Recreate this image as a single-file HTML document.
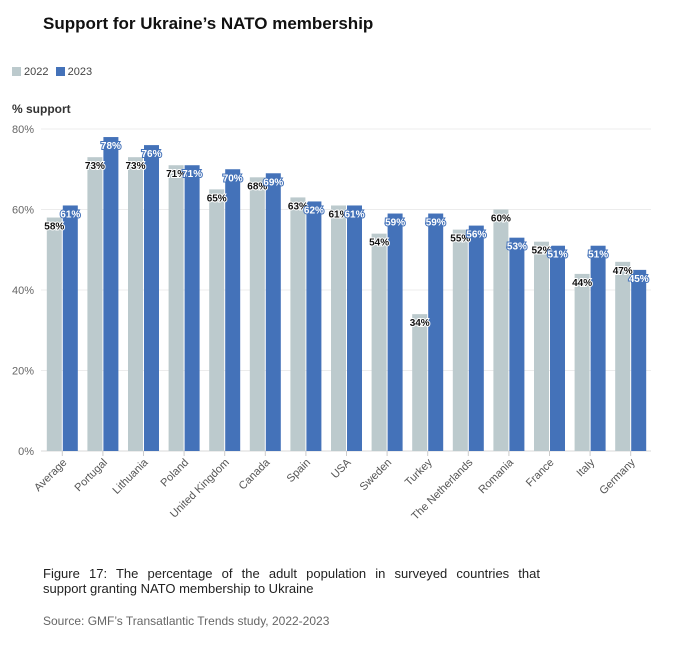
<!DOCTYPE html>
<html><head><meta charset="utf-8">
<style>
body{margin:0;background:#fff;width:679px;height:648px;overflow:hidden;font-family:"Liberation Sans","DejaVu Sans",sans-serif;}
.t{position:absolute;}
</style></head><body>
<div class="t" style="left:43px;top:14px;font-size:17px;font-weight:bold;color:#111;">Support for Ukraine’s NATO membership</div>
<div class="t" style="left:12px;top:66px;font-size:11px;color:#444;">
<span><span style="display:inline-block;width:9px;height:9px;background:#bccacd;vertical-align:-1px"></span> 2022</span>
<span style="margin-left:4px"><span style="display:inline-block;width:9px;height:9px;background:#4472b9;vertical-align:-1px"></span> 2023</span>
</div>
<div class="t" style="left:12px;top:102px;font-size:12px;font-weight:bold;color:#333;">% support</div>
<svg id="chart" width="679" height="560" style="position:absolute;left:0;top:0" xmlns="http://www.w3.org/2000/svg"></svg>
<div class="t" style="left:43px;top:566px;width:497px;font-size:13px;color:#222;line-height:15px;">
<div style="text-align:justify;text-align-last:justify;white-space:nowrap;">Figure 17: The percentage of the adult population in surveyed countries that</div>
<div>support granting NATO membership to Ukraine</div></div>
<div class="t" style="left:43px;top:614px;font-size:12px;color:#666;">Source: GMF’s Transatlantic Trends study, 2022-2023</div>
<script>
const categories=["Average","Portugal","Lithuania","Poland","United Kingdom","Canada","Spain","USA","Sweden","Turkey","The Netherlands","Romania","France","Italy","Germany"];
const values2022=[58,73,73,71,65,68,63,61,54,34,55,60,52,44,47];
const values2023=[61,78,76,71,70,69,62,61,59,59,56,53,51,51,45];
const yTicks=[0,20,40,60,80];
const NS="http://www.w3.org/2000/svg";
const svg=document.getElementById('chart');
const y=v=>451-v*4.025;
const x=i=>62.3+i*40.6;
function mk(tag,attrs,txt){const e=document.createElementNS(NS,tag);for(const k in attrs)e.setAttribute(k,attrs[k]);if(txt!==undefined)e.textContent=txt;svg.appendChild(e);return e;}
yTicks.forEach(t=>{
 const g=mk('line',{x1:41,x2:651,y1:y(t),y2:y(t),stroke:t===0?'#d8d8d8':'#ececec','stroke-width':1});
 
 
 const l=mk('text',{x:34,y:y(t)+4,'text-anchor':'end','font-size':11,fill:'#666'},t+'%');
 
 
});
categories.forEach((c,i)=>{
 const cx=x(i);
 const tk=mk('line',{x1:cx,x2:cx,y1:451,y2:456,stroke:'#ccc'});
 
 
 const b1=mk('rect',{x:cx-15.5,y:y(values2022[i]),width:15,height:451-y(values2022[i]),fill:'#bccacd'});
 
 
 const b2=mk('rect',{x:cx+0.5,y:y(values2023[i]),width:15,height:451-y(values2023[i]),fill:'#4472b9'});
 
 
 const t1=mk('text',{x:cx-8,y:y(values2022[i])+12,'text-anchor':'middle','font-size':10,'font-weight':'bold',fill:'#111',stroke:'#fff','stroke-width':2,'paint-order':'stroke'},values2022[i]+'%');
 
 
 const t2=mk('text',{x:cx+8,y:y(values2023[i])+12,'text-anchor':'middle','font-size':10,'font-weight':'bold',fill:'#fff',stroke:'#4472b9','stroke-width':2,'paint-order':'stroke'},values2023[i]+'%');
 
 
 const xl=mk('text',{x:0,y:0,'text-anchor':'end','font-size':11,fill:'#555',transform:`translate(${cx+5},${463}) rotate(-45)`},c);
 
 
});
</script>
</body></html>
